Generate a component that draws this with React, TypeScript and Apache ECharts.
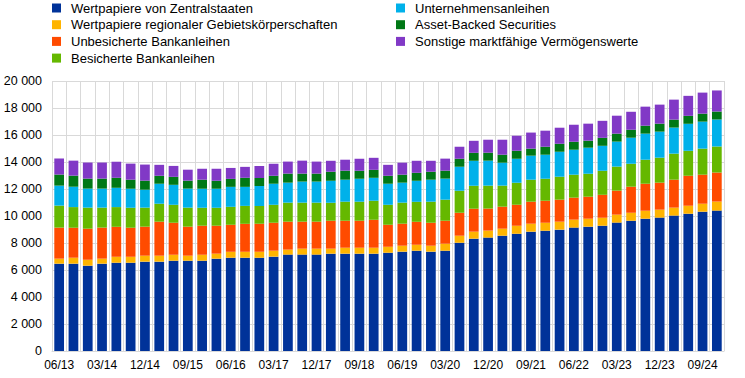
import React, { useEffect, useRef } from "react";
import * as echarts from "echarts";

const categories = [
  "06/13", "09/13", "12/13", "03/14", "06/14", "09/14", "12/14", "03/15", "06/15", "09/15",
  "12/15", "03/16", "06/16", "09/16", "12/16", "03/17", "06/17", "09/17", "12/17", "03/18",
  "06/18", "09/18", "12/18", "03/19", "06/19", "09/19", "12/19", "03/20", "06/20", "09/20",
  "12/20", "03/21", "06/21", "09/21", "12/21", "03/22", "06/22", "09/22", "12/22", "03/23",
  "06/23", "09/23", "12/23", "03/24", "06/24", "09/24", "12/24",
];

const zentralstaaten = [
  6470, 6470, 6320, 6470, 6540, 6540, 6620, 6620, 6690, 6690,
  6690, 6840, 6910, 6910, 6910, 6990, 7140, 7140, 7140, 7210,
  7210, 7210, 7210, 7280, 7360, 7430, 7360, 7430, 8020, 8320,
  8400, 8540, 8690, 8840, 8910, 8990, 9140, 9210, 9280, 9510,
  9650, 9800, 9880, 10030, 10170, 10320, 10400,
];
const regional = [
  370, 440, 440, 370, 440, 440, 440, 440, 440, 370,
  440, 370, 440, 440, 440, 440, 370, 440, 440, 370,
  440, 440, 440, 440, 440, 440, 440, 520, 520, 520,
  520, 520, 590, 590, 590, 590, 590, 590, 590, 590,
  590, 590, 590, 590, 590, 590, 670,
];
const unbesichert = [
  2300, 2220, 2300, 2300, 2220, 2150, 2150, 2520, 2370, 2150,
  2150, 2070, 2000, 2070, 2070, 2070, 2070, 2000, 2000, 2070,
  2000, 2000, 2070, 1630, 1630, 1700, 1700, 1700, 1700, 1700,
  1630, 1630, 1560, 1630, 1630, 1630, 1630, 1630, 1700, 1780,
  1930, 2000, 2000, 2070, 2220, 2150, 2150,
];
const besichert = [
  1630, 1530, 1560, 1480, 1460, 1480, 1410, 1330, 1330, 1410,
  1330, 1330, 1330, 1330, 1330, 1330, 1410, 1410, 1410, 1330,
  1410, 1410, 1410, 1480, 1560, 1480, 1560, 1560, 1630, 1700,
  1700, 1560, 1630, 1630, 1630, 1700, 1700, 1700, 1780, 1780,
  1700, 1780, 1850, 1930, 1850, 1930, 1930,
];
const unternehmen = [
  1480, 1510, 1410, 1410, 1430, 1410, 1330, 1480, 1480, 1410,
  1410, 1410, 1480, 1410, 1480, 1560, 1480, 1560, 1560, 1630,
  1630, 1700, 1700, 1560, 1480, 1560, 1630, 1560, 1780, 1850,
  1850, 1700, 1780, 1780, 1780, 1850, 1850, 1930, 1850, 1850,
  1930, 1930, 1930, 1930, 2000, 2000, 2000,
];
const abs = [
  820, 820, 740, 740, 740, 670, 670, 590, 590, 590,
  670, 590, 590, 670, 590, 590, 670, 590, 590, 670,
  670, 590, 590, 590, 590, 590, 590, 590, 590, 590,
  590, 590, 590, 520, 590, 590, 590, 520, 590, 590,
  590, 590, 590, 590, 590, 590, 590,
];
const sonstige = [
  1190, 1110, 1190, 1190, 1190, 1190, 1190, 810, 810, 810,
  810, 890, 810, 810, 890, 890, 890, 960, 890, 810,
  810, 890, 890, 810, 890, 890, 810, 890, 890, 890,
  960, 1110, 1110, 1190, 1190, 1190, 1260, 1260, 1260, 1330,
  1330, 1410, 1410, 1480, 1480, 1560, 1560,
];

const seriesNames = [
  "Wertpapiere von Zentralstaaten",
  "Wertpapiere regionaler Gebietskörperschaften",
  "Unbesicherte Bankanleihen",
  "Besicherte Bankanleihen",
  "Unternehmensanleihen",
  "Asset-Backed Securities",
  "Sonstige marktfähige Vermögenswerte",
];
const seriesData = [zentralstaaten, regional, unbesichert, besichert, unternehmen, abs, sonstige];
const colors = ["#003299", "#FFB400", "#FF4B00", "#65B800", "#00B1EA", "#007816", "#8139C6"];

const FONT = 'Arial, "Liberation Sans", sans-serif';

export default function App() {
  const ref = useRef<HTMLDivElement>(null);
  useEffect(() => {
    if (!ref.current) return;
    const chart = echarts.init(ref.current, undefined, { renderer: "svg" });
    const legendCommon = {
      orient: "vertical" as const,
      top: 0,
      padding: 0,
      itemWidth: 9,
      itemHeight: 9,
      itemGap: 0.7,
      icon: "rect",
      selectedMode: false,
      textStyle: { fontFamily: FONT, fontSize: 13, color: "#000", lineHeight: 16, padding: [0, 0, 0, 5] },
    };
    chart.setOption({
      animation: false,
      color: colors,
      textStyle: { fontFamily: FONT },
      legend: [
        { ...legendCommon, left: 52, data: seriesNames.slice(0, 4) },
        { ...legendCommon, left: 396, data: seriesNames.slice(4) },
      ],
      grid: { left: 52, right: 21, top: 81, bottom: 27, containLabel: false },
      xAxis: {
        type: "category",
        data: categories,
        boundaryGap: true,
        axisLine: { show: true, lineStyle: { color: "#d9d9d9" } },
        axisTick: { show: false },
        splitLine: { show: true, interval: 0, lineStyle: { color: "#d9d9d9", width: 1 } },
        axisLabel: { interval: 2, margin: 8, fontFamily: FONT, fontSize: 12, color: "#000" },
      },
      yAxis: {
        type: "value",
        min: 0,
        max: 20000,
        interval: 2000,
        axisLine: { show: false },
        axisTick: { show: false },
        splitLine: { show: true, lineStyle: { color: "#d9d9d9", width: 1 } },
        axisLabel: {
          margin: 10,
          fontFamily: FONT,
          fontSize: 12.5,
          color: "#000",
          formatter: (v: number) => String(v).replace(/\B(?=(\d{3})+(?!\d))/g, " "),
        },
      },
      series: seriesNames.map((name, i) => ({
        name,
        type: "bar",
        stack: "total",
        barCategoryGap: "32%",
        data: seriesData[i],
        itemStyle: { color: colors[i] },
      })),
    });
    return () => chart.dispose();
  }, []);
  return (
    <div
      ref={ref}
      style={{ position: "absolute", left: 0, top: 0, width: 745, height: 378 }}
    />
  );
}
